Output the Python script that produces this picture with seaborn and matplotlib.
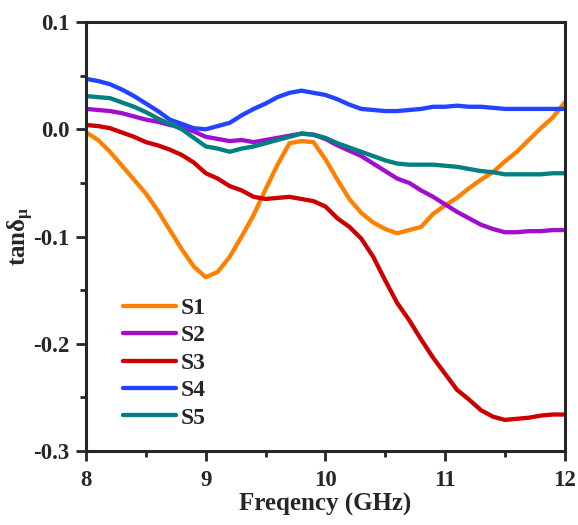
import numpy as np
import pandas as pd
import matplotlib
matplotlib.use("Agg")
import matplotlib.pyplot as plt
import seaborn as sns
from matplotlib.ticker import MultipleLocator

freq = [8.0, 8.1, 8.2, 8.3, 8.4, 8.5, 8.6, 8.7, 8.8, 8.9,
        9.0, 9.1, 9.2, 9.3, 9.4, 9.5, 9.6, 9.7, 9.8, 9.9,
        10.0, 10.1, 10.2, 10.3, 10.4, 10.5, 10.6, 10.7, 10.8, 10.9,
        11.0, 11.1, 11.2, 11.3, 11.4, 11.5, 11.6, 11.7, 11.8, 11.9, 12.0]

s1 = [-0.003, -0.010, -0.021, -0.034, -0.047, -0.060, -0.076, -0.094, -0.112, -0.128,
      -0.138, -0.133, -0.119, -0.100, -0.080, -0.056, -0.033, -0.013, -0.011, -0.012,
      -0.028, -0.047, -0.065, -0.078, -0.087, -0.093, -0.097, -0.094, -0.091, -0.079,
      -0.071, -0.064, -0.055, -0.047, -0.040, -0.030, -0.021, -0.010, 0.001, 0.011, 0.025]

s2 = [0.019, 0.018, 0.017, 0.015, 0.012, 0.009, 0.007, 0.004, 0.002, -0.002,
      -0.007, -0.009, -0.011, -0.010, -0.012, -0.010, -0.008, -0.006, -0.004, -0.005,
      -0.009, -0.015, -0.020, -0.025, -0.032, -0.039, -0.046, -0.050, -0.057, -0.063,
      -0.070, -0.077, -0.083, -0.089, -0.093, -0.096, -0.096, -0.095, -0.095, -0.094, -0.094]

s3 = [0.004, 0.003, 0.001, -0.003, -0.007, -0.012, -0.015, -0.019, -0.024, -0.031,
      -0.041, -0.046, -0.053, -0.057, -0.063, -0.065, -0.064, -0.063, -0.065, -0.067,
      -0.072, -0.083, -0.091, -0.102, -0.119, -0.141, -0.162, -0.178, -0.196, -0.213,
      -0.228, -0.243, -0.252, -0.262, -0.268, -0.271, -0.270, -0.269, -0.267, -0.266, -0.266]

s4 = [0.047, 0.045, 0.042, 0.037, 0.031, 0.024, 0.017, 0.009, 0.005, 0.001,
      0.000, 0.003, 0.006, 0.013, 0.019, 0.024, 0.030, 0.034, 0.036, 0.034,
      0.032, 0.028, 0.023, 0.019, 0.018, 0.017, 0.017, 0.018, 0.019, 0.021,
      0.021, 0.022, 0.021, 0.021, 0.020, 0.019, 0.019, 0.019, 0.019, 0.019, 0.019]

s5 = [0.031, 0.030, 0.029, 0.025, 0.021, 0.016, 0.010, 0.005, 0.000, -0.008,
      -0.016, -0.018, -0.021, -0.018, -0.016, -0.013, -0.010, -0.007, -0.004, -0.005,
      -0.008, -0.013, -0.017, -0.021, -0.025, -0.029, -0.032, -0.033, -0.033, -0.033,
      -0.034, -0.035, -0.037, -0.039, -0.040, -0.042, -0.042, -0.042, -0.042, -0.041, -0.041]

labels = ["S1", "S2", "S3", "S4", "S5"]
colors = ["#FF8000", "#A010CC", "#CC0000", "#2244FF", "#008080"]
yticks = [-0.3, -0.2, -0.1, 0.0, 0.1]
ytick_labels = ["-0.3", "-0.2", "-0.1", "0.0", "0.1"]

df = pd.concat([pd.DataFrame({"freq": freq, "tan": s, "sample": lab})
                for s, lab in zip([s1, s2, s3, s4, s5], labels)])

sns.set_style("ticks")
plt.rcParams["font.family"] = ["Liberation Serif", "DejaVu Serif"]
plt.rcParams["font.weight"] = "bold"
plt.rcParams["mathtext.fontset"] = "custom"
plt.rcParams["mathtext.rm"] = "Liberation Serif:bold"
plt.rcParams["mathtext.it"] = "Liberation Serif:bold"

fig = plt.figure(figsize=(5.78, 5.25), dpi=100)
ax = fig.add_axes([0.149, 0.141, 0.828, 0.817])

sns.lineplot(data=df, x="freq", y="tan", hue="sample", palette=colors,
             linewidth=3.1, ax=ax, sort=False)

ax.set_xlim(8, 12)
ax.set_ylim(-0.3, 0.1)
ax.xaxis.set_minor_locator(MultipleLocator(0.5))
ax.yaxis.set_minor_locator(MultipleLocator(0.05))
ax.set_xticks([8, 9, 10, 11, 12])
ax.set_xticklabels(["8", "9", "10", "11", "12"])
ax.set_yticks(yticks)
ax.set_yticklabels(ytick_labels)

ax.tick_params(which="major", length=7, width=2, labelsize=16.5, pad=5, direction="out")
ax.tick_params(axis="x", which="major", pad=7)
ax.tick_params(which="minor", length=4, width=2, direction="out")
for sp in ax.spines.values():
    sp.set_linewidth(2.2)

ax.set_xlabel("Freqency (GHz)", fontsize=18, fontweight="bold", labelpad=1)
ax.set_ylabel("tanδ$_{\\mathrm{μ}}$", fontsize=18, fontweight="bold", labelpad=-2)

leg = ax.legend(loc="lower left", bbox_to_anchor=(0.058, 0.03), borderaxespad=0,
                frameon=False, fontsize=17, handlelength=2.25, handletextpad=0.17,
                labelspacing=0.25)
for t in leg.get_texts():
    t.set_fontweight("bold")

fig.savefig("out.png", dpi=100)
